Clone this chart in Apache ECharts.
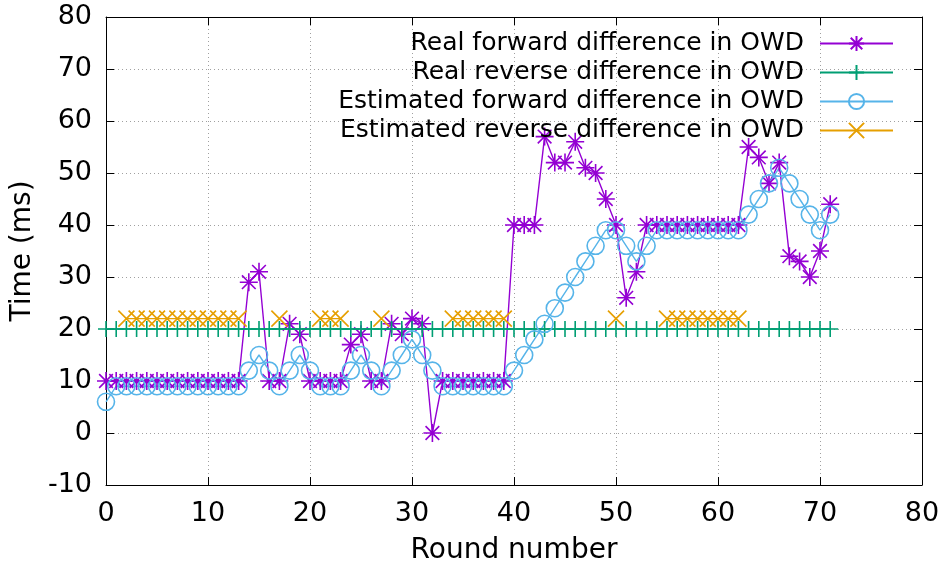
<!DOCTYPE html>
<html>
<head>
<meta charset="utf-8">
<script src="https://cdn.jsdelivr.net/npm/echarts@6/dist/echarts.min.js"></script>
<style>
  html, body { margin: 0; padding: 0; background: #fff; }
  #chart { width: 948px; height: 563px; }
</style>
</head>
<body>
<div id="chart"></div>
<script>
const rounds = [0,1,2,3,4,5,6,7,8,9,10,11,12,13,14,15,16,17,18,19,20,21,22,23,24,25,26,27,28,29,30,31,32,33,34,35,36,37,38,39,40,41,42,43,44,45,46,47,48,49,50,51,52,53,54,55,56,57,58,59,60,61,62,63,64,65,66,67,68,69,70,71];

const realForward = [10,10,10,10,10,10,10,10,10,10,10,10,10,10,29,31,10,10,21,19,10,10,10,10,17,19,10,10,21,19,22,21,0,10,10,10,10,10,10,10,40,40,40,57,52,52,56,51,50,45,40,26,31,40,40,40,40,40,40,40,40,40,40,55,53,48,52,34,33,30,35,44];

const realReverse = [20,20,20,20,20,20,20,20,20,20,20,20,20,20,20,20,20,20,20,20,20,20,20,20,20,20,20,20,20,20,20,20,20,20,20,20,20,20,20,20,20,20,20,20,20,20,20,20,20,20,20,20,20,20,20,20,20,20,20,20,20,20,20,20,20,20,20,20,20,20,20,20];

const estForward = [6,9,9,9,9,9,9,9,9,9,9,9,9,9,12,15,12,9,12,15,12,9,9,9,12,15,12,9,12,15,18,15,12,9,9,9,9,9,9,9,12,15,18,21,24,27,30,33,36,39,39,36,33,36,39,39,39,39,39,39,39,39,39,42,45,48,51,48,45,42,39,42];

const estReverse = [null,null,22,22,22,22,22,22,22,22,22,22,22,22,null,null,null,22,null,null,null,22,22,22,null,null,null,22,null,null,null,null,null,null,22,22,22,22,22,22,null,null,null,null,null,null,null,null,null,null,22,null,null,null,null,22,22,22,22,22,22,22,22,null,null,null,null,null,null,null,null,null];

const seriesNames = [
  'Real forward difference in OWD',
  'Real reverse difference in OWD',
  'Estimated forward difference in OWD',
  'Estimated reverse difference in OWD'
];
const xTicks = { min: 0, max: 80, interval: 10 };
const yTicks = { min: -10, max: 80, interval: 10 };

const FONT = 'DejaVu Sans';
const SYM_ASTERISK = 'path://M0,5 L10,5 M5,0 L5,10 M1.2,1.2 L8.8,8.8 M8.8,1.2 L1.2,8.8';
const SYM_PLUS = 'path://M0,5 L10,5 M5,0 L5,10';
const SYM_X = 'path://M0,0 L10,10 M10,0 L0,10';

function pairs(ys) { return rounds.map((r, i) => [r, ys[i]]); }

function mk(name, ys, color, symbol, size) {
  return {
    name: name,
    type: 'line',
    data: pairs(ys),
    symbol: symbol,
    symbolSize: size,
    showAllSymbol: true,
    connectNulls: false,
    lineStyle: { color: color, width: 1.4 },
    itemStyle: { color: 'rgba(0,0,0,0)', borderColor: color, borderWidth: 1.6 },
    emphasis: { disabled: true },
    animation: false,
    xAxisIndex: 0,
    yAxisIndex: 0
  };
}

const chart = echarts.init(document.getElementById('chart'), null, { renderer: 'canvas' });
const gridLine = { show: true, lineStyle: { color: '#a0a0a0', type: [1, 3], width: 1 } };
const axLine = { show: true, onZero: false, lineStyle: { color: '#000', width: 1 } };
const tick = { show: true, inside: true, length: 8, lineStyle: { color: '#000' } };

chart.setOption({
  animation: false,
  backgroundColor: '#fff',
  grid: { left: 106, right: 26, top: 17, bottom: 78, containLabel: false, outerBoundsMode: 'none' },
  xAxis: [{
    type: 'value', min: xTicks.min, max: xTicks.max, interval: xTicks.interval,
    position: 'bottom',
    name: 'Round number', nameLocation: 'middle', nameGap: 52,
    nameTextStyle: { fontFamily: FONT, fontSize: 28, color: '#000' },
    axisLine: axLine, axisTick: tick, splitLine: gridLine,
    axisLabel: { fontFamily: FONT, fontSize: 27, color: '#000', margin: 15 }
  }, {
    type: 'value', min: xTicks.min, max: xTicks.max, interval: xTicks.interval,
    position: 'top',
    axisLine: axLine, axisTick: tick, splitLine: { show: false },
    axisLabel: { show: false }
  }],
  yAxis: [{
    type: 'value', min: yTicks.min, max: yTicks.max, interval: yTicks.interval,
    position: 'left',
    name: 'Time (ms)', nameLocation: 'middle', nameGap: 57,
    nameTextStyle: { fontFamily: FONT, fontSize: 28, color: '#000' },
    axisLine: axLine, axisTick: tick, splitLine: gridLine,
    axisLabel: { fontFamily: FONT, fontSize: 27, color: '#000', margin: 14 }
  }, {
    type: 'value', min: yTicks.min, max: yTicks.max, interval: yTicks.interval,
    position: 'right',
    axisLine: axLine, axisTick: tick, splitLine: { show: false },
    axisLabel: { show: false }
  }],
  legend: {
    orient: 'vertical',
    right: 49,
    top: 26,
    align: 'right',
    itemWidth: 73,
    itemHeight: 19,
    itemGap: 4,
    selectedMode: false,
    textStyle: { fontFamily: FONT, fontSize: 25, color: '#000', padding: [0, 11, 0, 0] },
    data: seriesNames
  },
  series: [
    mk(seriesNames[0], realForward, '#9400d3', SYM_ASTERISK, 18),
    mk(seriesNames[1], realReverse, '#009e73', SYM_PLUS, 16),
    mk(seriesNames[2], estForward, '#56b4e9', 'circle', 17),
    mk(seriesNames[3], estReverse, '#e69f00', SYM_X, 16)
  ]
});
</script>
</body>
</html>
